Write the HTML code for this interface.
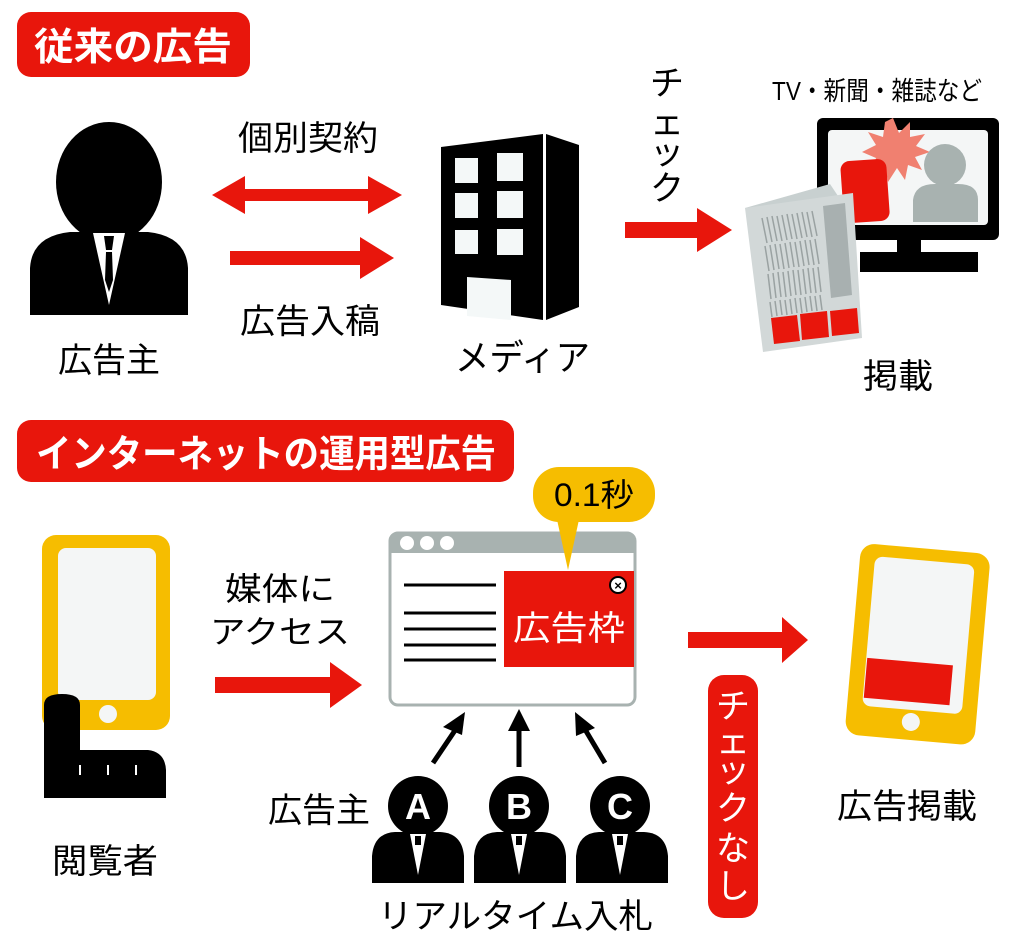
<!DOCTYPE html>
<html><head><meta charset="utf-8"><style>
html,body{margin:0;padding:0;background:#fff;}
svg{display:block;}
text{font-family:"Liberation Sans","Noto Sans CJK JP",sans-serif;}
</style></head><body>
<svg width="1024" height="946" viewBox="0 0 1024 946" xmlns="http://www.w3.org/2000/svg">
<!-- Top badge -->
<rect x="17" y="12" width="233" height="65" rx="14" fill="#e8160c"/>
<text x="34" y="60" font-size="38" font-weight="bold" fill="#fff" textLength="198" lengthAdjust="spacingAndGlyphs">従来の広告</text>

<!-- person -->
<ellipse cx="109" cy="182" rx="53" ry="60" fill="#000"/>
<path d="M30 315 L30 268 Q32 236 70 232 L148 232 Q186 236 188 268 L188 315 Z" fill="#000"/>
<polygon points="93,233 125,233 109,305" fill="#fff"/>
<polygon points="104,236 114,236 112,250 106,250" fill="#000"/>
<polygon points="106,252 112,252 113,280 109,292 105,280" fill="#000"/>
<text x="58" y="372" font-size="34" textLength="102" lengthAdjust="spacingAndGlyphs">広告主</text>

<!-- arrows top -->
<polygon points="212,195 245,176 245,189 368,189 368,176 402,195 368,214 368,201 245,201 245,214" fill="#e8160c"/>
<polygon points="230,251 360,251 360,237 394,258 360,279 360,265 230,265" fill="#e8160c"/>
<text x="238" y="150" font-size="34" textLength="140" lengthAdjust="spacingAndGlyphs">個別契約</text>
<text x="240" y="333" font-size="34" textLength="140" lengthAdjust="spacingAndGlyphs">広告入稿</text>

<!-- building -->
<polygon points="441,147 543,134 543,320 441,305" fill="#000"/>
<polygon points="546,134 579,145 579,307 546,320" fill="#000"/>
<g fill="#f4f8f8">
<rect x="455" y="158" width="23" height="25"/><rect x="497" y="153" width="26" height="28"/>
<rect x="455" y="193" width="23" height="25"/><rect x="497" y="191" width="26" height="27"/>
<rect x="455" y="230" width="23" height="24"/><rect x="497" y="229" width="26" height="26"/>
<polygon points="467,277 511,280 511,320 467,316"/>
</g>
<text x="455" y="370" font-size="36" textLength="135" lengthAdjust="spacingAndGlyphs">メディア</text>

<!-- check arrow -->
<polygon points="625,222 697,222 697,208 732,230 697,252 697,238 625,238" fill="#e8160c"/>
<g font-size="34">
<text x="650" y="95">チ</text><text x="650" y="134">ェ</text><text x="650" y="164">ッ</text><text x="650" y="200">ク</text>
</g>

<!-- TV -->
<text x="772" y="100" font-size="26" textLength="210" lengthAdjust="spacingAndGlyphs">TV・新聞・雑誌など</text>
<rect x="817" y="118" width="182" height="122" rx="6" fill="#000"/>
<rect x="828" y="130" width="160" height="95" rx="4" fill="#f4f6f6"/>
<rect x="897" y="238" width="24" height="16" fill="#000"/>
<rect x="860" y="252" width="118" height="20" fill="#000"/>
<polygon points="893,118 899,133 910,122 910,137 925,134 916,146 930,152 915,157 922,170 908,165 905,180 897,168 888,182 885,166 872,172 876,158 862,152 876,145 868,132 883,137 885,122" fill="#f08070"/>
<circle cx="945" cy="165" r="21" fill="#a8b2b0"/>
<path d="M913 222 L913 200 Q915 184 935 184 L958 184 Q978 184 978 200 L978 222 Z" fill="#a8b2b0"/>
<rect x="842" y="160" width="46" height="62" rx="9" fill="#e8160c" transform="rotate(-4 865 190)"/>

<!-- newspaper -->
<polygon points="745,208 830,184 838,196 756,215" fill="#c8d0d0"/>
<polygon points="745,208 853,193 862,338 763,352" fill="#d2d8d8"/>
<g stroke="#9aa2a2" stroke-width="1.5">
<path d="M762 218 l5 25 M767 217 l5 25 M772 216 l5 25 M777 216 l5 25 M782 215 l5 25 M787 214 l5 25 M792 214 l5 25 M797 213 l5 25 M802 212 l5 25 M807 212 l5 25 M812 211 l5 25"/>
<path d="M765 246 l4 25 M770 245 l4 25 M775 244 l4 25 M780 244 l4 25 M785 243 l4 25 M790 242 l4 25 M795 242 l4 25 M800 241 l4 25 M805 240 l4 25 M810 240 l4 25 M815 239 l4 25"/>
<path d="M768 274 l3 25 M773 273 l3 25 M778 272 l3 25 M783 272 l3 25 M788 271 l3 25 M793 270 l3 25 M798 270 l3 25 M803 269 l3 25 M808 268 l3 25 M813 268 l3 25 M818 267 l3 25"/>
<path d="M770 302 l2 15 M775 301 l2 15 M780 300 l2 15 M785 300 l2 15 M790 299 l2 15 M795 298 l2 15 M800 298 l2 15 M805 297 l2 15 M810 296 l2 15 M815 296 l2 15 M820 295 l2 15"/>
</g>
<polygon points="823,206 845,203 852,295 831,298" fill="#a8b0b0"/>
<polygon points="771,318 797,315 800,341 774,344" fill="#e8160c"/>
<polygon points="800,314 827,311 829,337 802,340" fill="#e8160c"/>
<polygon points="830,311 857,308 859,333 832,336" fill="#e8160c"/>
<text x="863" y="388" font-size="34" textLength="70" lengthAdjust="spacingAndGlyphs">掲載</text>

<!-- Bottom badge -->
<rect x="17" y="420" width="497" height="62" rx="14" fill="#e8160c"/>
<text x="36" y="467" font-size="38" font-weight="bold" fill="#fff" textLength="460" lengthAdjust="spacingAndGlyphs">インターネットの運用型広告</text>

<!-- left phone -->
<rect x="42" y="535" width="128" height="195" rx="14" fill="#f6bd00"/>
<rect x="58" y="548" width="98" height="152" rx="8" fill="#f4f6f6"/>
<circle cx="108" cy="714" r="9" fill="#f4f6f6"/>
<path d="M44 795 L44 705 Q44 694 62 694 Q80 694 80 705 L80 750 L148 750 Q165 752 166 770 L166 798 L44 798 Z" fill="#000"/>
<g stroke="#fff" stroke-width="2"><line x1="80" y1="765" x2="80" y2="775"/><line x1="108" y1="765" x2="108" y2="775"/><line x1="136" y1="765" x2="136" y2="775"/></g>
<text x="52" y="873" font-size="34" textLength="106" lengthAdjust="spacingAndGlyphs">閲覧者</text>

<text x="225" y="600" font-size="32" textLength="110" lengthAdjust="spacingAndGlyphs">媒体に</text>
<text x="210" y="643" font-size="32" textLength="140" lengthAdjust="spacingAndGlyphs">アクセス</text>
<polygon points="215,677 330,677 330,662 362,685 330,708 330,693 215,693" fill="#e8160c"/>

<!-- browser -->
<rect x="390" y="533" width="245" height="172" rx="8" fill="#fff" stroke="#a8b2b0" stroke-width="3"/>
<path d="M390 553 L390 541 Q390 533 398 533 L627 533 Q635 533 635 541 L635 553 Z" fill="#a8b2b0"/>
<circle cx="407" cy="543" r="7" fill="#fff"/><circle cx="427" cy="543" r="7" fill="#fff"/><circle cx="447" cy="543" r="7" fill="#fff"/>
<g stroke="#000" stroke-width="3"><line x1="404" y1="585" x2="496" y2="585"/><line x1="404" y1="613" x2="496" y2="613"/><line x1="404" y1="629" x2="496" y2="629"/><line x1="404" y1="645" x2="496" y2="645"/><line x1="404" y1="660" x2="496" y2="660"/></g>
<rect x="504" y="571" width="130" height="96" fill="#e8160c"/>
<text x="513" y="640" font-size="34" fill="#fff" textLength="112" lengthAdjust="spacingAndGlyphs">広告枠</text>
<circle cx="618" cy="585" r="8" fill="#fff" stroke="#000" stroke-width="2"/>
<text x="618" y="590" font-size="13" font-weight="bold" text-anchor="middle">×</text>
<!-- bubble -->
<rect x="533" y="467" width="122" height="55" rx="26" fill="#f6bd00"/>
<polygon points="556,515 580,515 568,570" fill="#f6bd00"/>
<text x="554" y="506" font-size="32" textLength="80" lengthAdjust="spacingAndGlyphs">0.1秒</text>

<!-- up arrows -->
<g stroke="#000" stroke-width="5"><line x1="433" y1="763" x2="458" y2="726"/><line x1="519" y1="767" x2="519" y2="728"/><line x1="605" y1="763" x2="583" y2="726"/></g>
<polygon points="465,712 443,727 462,735" fill="#000"/>
<polygon points="519,709 508,731 530,731" fill="#000"/>
<polygon points="575,712 576,736 595,728" fill="#000"/>

<!-- bidders -->
<g fill="#000">
<ellipse cx="418" cy="806" rx="30" ry="30"/><ellipse cx="519" cy="806" rx="30" ry="30"/><ellipse cx="620" cy="806" rx="30" ry="30"/>
<path d="M372 883 L372 856 Q374 833 395 832 L440 832 Q462 833 464 856 L464 883 Z"/>
<path d="M474 883 L474 856 Q476 833 497 832 L542 832 Q564 833 566 856 L566 883 Z"/>
<path d="M576 883 L576 856 Q578 833 599 832 L644 832 Q666 833 668 856 L668 883 Z"/>
</g>
<g fill="#fff"><polygon points="410,834 426,834 418,875"/><polygon points="511,834 527,834 519,875"/><polygon points="612,834 628,834 620,875"/></g>
<g fill="#000"><rect x="415" y="836" width="6" height="9"/><rect x="516" y="836" width="6" height="9"/><rect x="617" y="836" width="6" height="9"/></g>
<g font-size="36" font-weight="bold" fill="#fff" text-anchor="middle">
<text x="418" y="819">A</text><text x="519" y="819">B</text><text x="620" y="819">C</text>
</g>
<text x="268" y="822" font-size="34" textLength="102" lengthAdjust="spacingAndGlyphs">広告主</text>
<text x="378" y="928" font-size="34" textLength="275" lengthAdjust="spacingAndGlyphs">リアルタイム入札</text>

<!-- check nashi -->
<rect x="708" y="675" width="50" height="243" rx="16" fill="#e8160c"/>
<g font-size="34" fill="#fff" text-anchor="middle">
<text x="733" y="718">チ</text><text x="733" y="753">ェ</text><text x="733" y="782">ッ</text><text x="733" y="820">ク</text><text x="733" y="860">な</text><text x="733" y="898">し</text>
</g>
<polygon points="688,632 782,632 782,617 808,640 782,663 782,648 688,648" fill="#e8160c"/>

<!-- right phone -->
<g transform="rotate(5 915 640)">
<rect x="853" y="548" width="130" height="192" rx="14" fill="#f6bd00"/>
<rect x="868" y="560" width="100" height="150" rx="8" fill="#f4f6f6"/>
<rect x="869" y="662" width="86" height="40" fill="#e8160c"/>
<circle cx="918" cy="722" r="9" fill="#f4f6f6"/>
</g>
<text x="837" y="818" font-size="34" textLength="140" lengthAdjust="spacingAndGlyphs">広告掲載</text>
</svg>
</body></html>
